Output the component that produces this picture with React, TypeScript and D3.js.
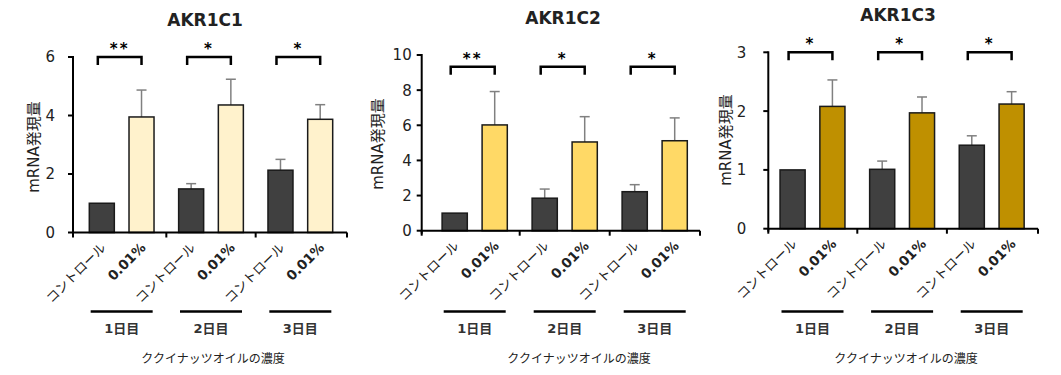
import React from 'react';
import * as d3 from 'd3';

// gene panels
const genes = ['AKR1C1', 'AKR1C2', 'AKR1C3'];
const days = ['1日目', '2日目', '3日目'];
const conditions = ['コントロール', '0.01%'];
const xTitle = 'ククイナッツオイルの濃度';
const yTitle = 'mRNA発現量';

// mean / SD
const akr1c1Control = [1.0, 1.49, 2.13];
const akr1c1ControlErr = [0, 0.18, 0.37];
const akr1c1Treated = [3.95, 4.36, 3.87];
const akr1c1TreatedErr = [0.92, 0.88, 0.5];

const akr1c2Control = [1.0, 1.85, 2.22];
const akr1c2ControlErr = [0, 0.52, 0.4];
const akr1c2Treated = [6.02, 5.05, 5.12];
const akr1c2TreatedErr = [1.9, 1.44, 1.3];

const akr1c3Control = [1.0, 1.01, 1.42];
const akr1c3ControlErr = [0, 0.14, 0.16];
const akr1c3Treated = [2.08, 1.97, 2.12];
const akr1c3TreatedErr = [0.45, 0.27, 0.21];

const stars1 = ['**', '*', '*'];
const stars2 = ['**', '*', '*'];
const stars3 = ['*', '*', '*'];

const yMaxes = [6, 10, 3];
const yTicks1 = [0, 2, 4, 6];
const yTicks2 = [0, 2, 4, 6, 8, 10];
const yTicks3 = [0, 1, 2, 3];
const bracketLevels = [6, 9.33, 3];

const controlColor = '#404040';
const treatedColors = ['#fff2cc', '#ffd966', '#bf9000'];

const latin = "'DejaVu Sans', 'Noto Sans CJK JP', sans-serif";
const cjk = "'Noto Sans CJK JP', sans-serif";

// pixel layout of each panel
const layouts = [
  { ax0: 73, ax1: 347, b0: 77, b1: 345, y0: 232.5, yTop: 57, titleX: 205, titleY: 26, yTitleX: 34, yTitleY: 147, tickGap: 13, xTitleX: 213 },
  { ax0: 421.7, ax1: 700, b0: 429.7, b1: 699.7, y0: 230.7, yTop: 55, titleX: 563, titleY: 24, yTitleX: 378, yTitleY: 144, tickGap: 5, xTitleX: 579 },
  { ax0: 768.3, ax1: 1038, b0: 767.7, b1: 1036.5, y0: 228.7, yTop: 52.3, titleX: 898, titleY: 21, yTitleX: 726, yTitleY: 140, tickGap: 17, xTitleX: 906 },
];

const panels = [
  { ctl: akr1c1Control, ctlErr: akr1c1ControlErr, trt: akr1c1Treated, trtErr: akr1c1TreatedErr, stars: stars1, ticks: yTicks1 },
  { ctl: akr1c2Control, ctlErr: akr1c2ControlErr, trt: akr1c2Treated, trtErr: akr1c2TreatedErr, stars: stars2, ticks: yTicks2 },
  { ctl: akr1c3Control, ctlErr: akr1c3ControlErr, trt: akr1c3Treated, trtErr: akr1c3TreatedErr, stars: stars3, ticks: yTicks3 },
];

function Panel({ i }: { i: number }) {
  const L = layouts[i];
  const p = panels[i];
  const y = d3.scaleLinear().domain([0, yMaxes[i]]).range([L.y0, L.yTop]);
  const xg = d3.scaleBand().domain(days).range([L.b0, L.b1]);
  const xc = d3.scaleBand().domain(conditions).range([0, xg.bandwidth()]).paddingInner(0.37).paddingOuter(0.31);
  const bw = xc.bandwidth();

  const bars = days.flatMap((d, gi) => [
    { day: d, cond: conditions[0], v: p.ctl[gi], e: p.ctlErr[gi], fill: controlColor },
    { day: d, cond: conditions[1], v: p.trt[gi], e: p.trtErr[gi], fill: treatedColors[i] },
  ]);
  const cx = (day: string, cond: string) => (xg(day) as number) + (xc(cond) as number) + bw / 2;
  const dividers = [L.ax0, ...days.slice(1).map((d) => xg(d) as number), L.ax1];

  return (
    <g>
      <text x={L.titleX} y={L.titleY} textAnchor="middle" fontFamily={latin} fontSize={17} fontWeight="bold" fill="#222">
        {genes[i]}
      </text>
      <text transform={`translate(${L.yTitleX},${L.yTitleY}) rotate(-90)`} textAnchor="middle" dy="0.35em" fontFamily={latin} fontSize={15} fill="#222">
        {yTitle}
      </text>
      {p.ticks.map((t) => (
        <g key={t}>
          <line x1={L.ax0 - 5} x2={L.ax0} y1={y(t)} y2={y(t)} stroke="#000" strokeWidth={2} />
          <text x={L.ax0 - 5 - L.tickGap} y={y(t)} dy="0.36em" textAnchor="end" fontFamily={latin} fontSize={15} fill="#222">
            {t}
          </text>
        </g>
      ))}
      {bars.map((b) => {
        const x = cx(b.day, b.cond);
        return (
          <g key={b.day + b.cond}>
            {b.e > 0 && (
              <g stroke="#808080" strokeWidth={1.5}>
                <line x1={x} x2={x} y1={y(b.v)} y2={y(b.v + b.e)} />
                <line x1={x - 5} x2={x + 5} y1={y(b.v + b.e)} y2={y(b.v + b.e)} />
              </g>
            )}
            <rect x={x - bw / 2} y={y(b.v)} width={bw} height={L.y0 - y(b.v)} fill={b.fill} stroke="#1a1a1a" strokeWidth={1.5} />
          </g>
        );
      })}
      <line x1={L.ax0} x2={L.ax0} y1={L.yTop - 1} y2={L.y0 + 3} stroke="#000" strokeWidth={2} />
      <line x1={L.ax0} x2={L.ax1} y1={L.y0} y2={L.y0} stroke="#000" strokeWidth={2} />
      {dividers.map((d, k) => (
        <line key={k} x1={d} x2={d} y1={L.y0} y2={L.y0 + 5} stroke="#000" strokeWidth={2} />
      ))}
      {days.map((d, gi) => {
        const a = cx(d, conditions[0]);
        const b = cx(d, conditions[1]);
        const by = y(bracketLevels[i]);
        const gc = (xg(d) as number) + xg.bandwidth() / 2;
        return (
          <g key={d}>
            <path d={`M${a - 4},${by + 8}V${by}H${b}V${by + 8}`} fill="none" stroke="#000" strokeWidth={2.5} />
            <text x={(a - 4 + b) / 2} y={by - 3} textAnchor="middle" fontFamily={latin} fontSize={15} fontWeight="bold" letterSpacing={2}>
              {p.stars[gi]}
            </text>
            {conditions.map((c, ci) => (
              <text
                key={c}
                transform={`translate(${cx(d, c) + 5},${L.y0 + 16}) rotate(-45)`}
                textAnchor="end"
                fontFamily={ci === 0 ? cjk : latin}
                fontSize={ci === 0 ? 13 : 13.5}
                fontWeight={ci === 0 ? 'normal' : 'bold'}
                fill="#222"
              >
                {c}
              </text>
            ))}
            <line x1={gc - 31} x2={gc + 31} y1={311.5} y2={311.5} stroke="#000" strokeWidth={2.5} />
            <text x={gc} y={333} textAnchor="middle" fontFamily={latin} fontSize={13} fontWeight="bold" fill="#333">
              {d}
            </text>
          </g>
        );
      })}
      <text x={L.xTitleX} y={363} textAnchor="middle" fontFamily={cjk} fontSize={12} fill="#222">
        {xTitle}
      </text>
    </g>
  );
}

export default function App() {
  return (
    <svg width={1061} height={375} style={{ position: 'absolute', left: 0, top: 0, background: '#fff' }}>
      {genes.map((g, i) => (
        <Panel key={g} i={i} />
      ))}
    </svg>
  );
}
